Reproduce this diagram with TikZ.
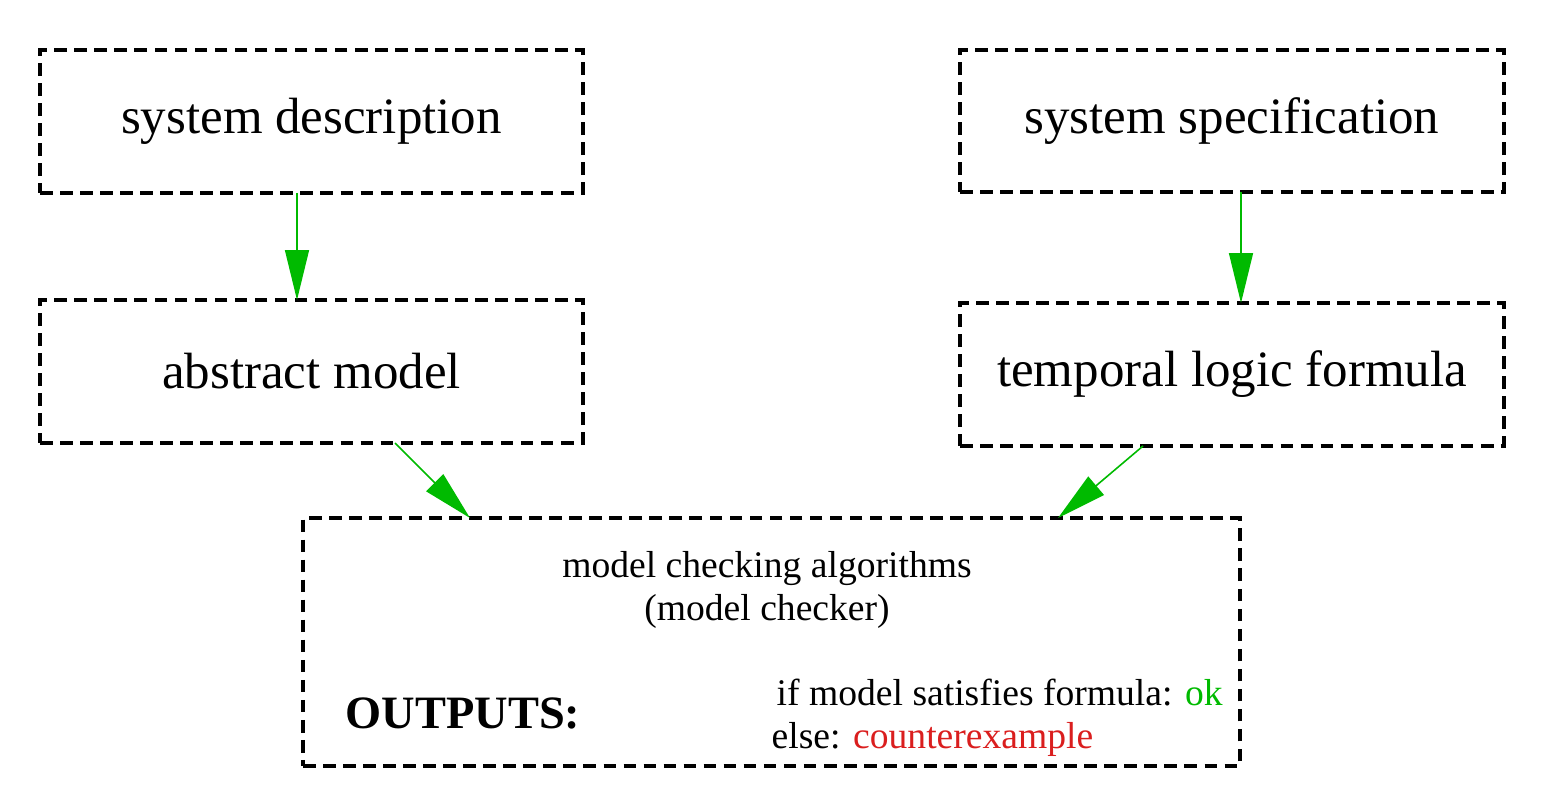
\documentclass[tikz,border=0pt]{standalone}
\usepackage{fontspec}
\setmainfont{Liberation Serif}
\usetikzlibrary{arrows.meta}
\definecolor{flowgreen}{RGB}{0,186,0}
\definecolor{cexred}{RGB}{218,30,30}
\begin{document}
\begin{tikzpicture}[
        box/.style={draw,line width=1.2pt,dash pattern=on 3.6pt off 2.1pt,outer sep=0pt,inner sep=0pt},
        bigtext/.style={font=\fontsize{14.5}{17}\selectfont},
        smalltext/.style={font=\fontsize{10.7}{12}\selectfont,inner sep=0pt},
        flow/.style={flowgreen,line width=.45pt,-{Triangle[length=5mm,width=2.4mm]}}
    ]
                \useasboundingbox (0,0) rectangle (15.44,7.96);
                \node[box,bigtext,minimum width=5.43cm,minimum height=1.43cm] (desc) at (3.115,6.745) {system description};
                \node[box,bigtext,minimum width=5.43cm,minimum height=1.43cm] (abs) at (3.115,4.245) {abstract model};
                \node[box,bigtext,minimum width=5.44cm,minimum height=1.42cm] (spec) at (12.32,6.75) {system specification};
                \node[box,bigtext,minimum width=5.44cm,minimum height=1.43cm] (tl) at (12.32,4.215) {temporal logic formula};
                \node[box,minimum width=9.37cm,minimum height=2.48cm] (chk) at (7.715,1.54) {};
                \node[smalltext,align=center,anchor=base] (algo) at (7.67,1.76) {model checking algorithms\\(model checker)};
                \node[font=\fontsize{13.2}{15}\selectfont\bfseries,inner sep=0pt,anchor=base west] (out) at (3.45,0.68) {OUTPUTS:};
                \node[smalltext,anchor=base west] (okline) at (7.76,0.91) {if model satisfies formula: \textcolor{flowgreen}{ok}};
                \node[smalltext,anchor=base west] (cexline) at (7.71,0.48) {else: \textcolor{cexred}{counterexample}};
                \draw[flow] ([xshift=-1.45mm]desc.south) -- ([xshift=-1.45mm]abs.north);
                \draw[flow] ([xshift=.9mm]spec.south) -- ([xshift=.9mm]tl.north);
                \draw[flow] ([xshift=8.35mm]abs.south) -- ([xshift=-30.15mm]chk.north);
                \draw[flow] ([xshift=-8.9mm]tl.south) -- ([xshift=28.65mm]chk.north);
            \end{tikzpicture}
\end{document}
